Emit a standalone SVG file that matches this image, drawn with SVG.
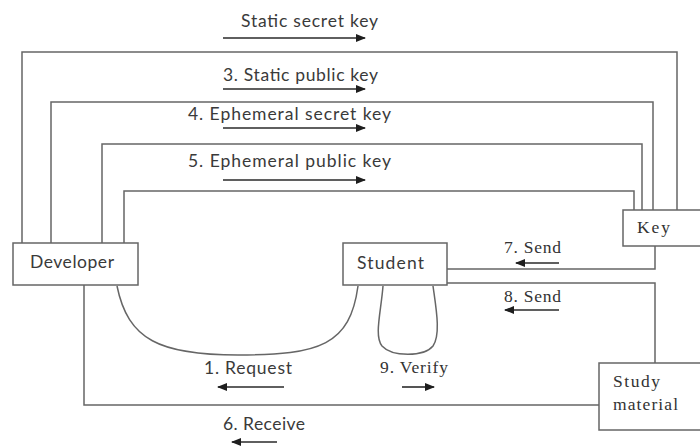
<svg xmlns="http://www.w3.org/2000/svg" width="700" height="446" viewBox="0 0 700 446">
  <defs>
    <marker id="head" viewBox="0 0 10 8" refX="9" refY="4" markerWidth="10" markerHeight="8" markerUnits="userSpaceOnUse" orient="auto">
      <path d="M0,0 L10,4 L0,8 Z" fill="#1e1e1e"/>
    </marker>
    <style>
      .box { fill: #ffffff; stroke: #666666; stroke-width: 1.5; }
      .wire { fill: none; stroke: #666666; stroke-width: 1.5; }
      .flow { fill: none; stroke: #2a2a2a; stroke-width: 1.6; marker-end: url(#head); }
      .sans { font-family: Lato, "Liberation Sans", sans-serif; font-size: 17.5px; fill: #3a3a3a; }
      .serif { font-family: "Liberation Serif", serif; font-size: 17.5px; fill: #333333; }
    </style>
  </defs>

  <rect width="700" height="446" fill="#ffffff"/>

  <!-- connectors -->
  <g id="connectors">
    <!-- key frames from Developer to Key -->
    <polyline class="wire" points="22,243 22,52 677,52 677,210"/>
    <polyline class="wire" points="51,243 51,102 653,102 653,210"/>
    <polyline class="wire" points="102,243 102,144 642,144 642,210"/>
    <polyline class="wire" points="124,243 124,191 634,191 634,210"/>
    <!-- Key to Student -->
    <polyline class="wire" points="447,269 655,269 655,246"/>
    <!-- Study material to Student -->
    <polyline class="wire" points="447,283 655,283 655,363"/>
    <!-- Developer to Study material -->
    <polyline class="wire" points="84,285 84,405 599,405"/>
    <!-- request curve -->
    <path class="wire" d="M117,286 C128,340 160,355 238,355 C320,355 350,345 358,286"/>
    <!-- verify loop -->
    <path class="wire" d="M383,286 C381,312 374,336 382,346 C392,357 424,357 433,346 C441,334 436,308 433,286"/>

    <!-- direction arrows -->
    <line class="flow" x1="223" y1="38" x2="365" y2="38"/>
    <line class="flow" x1="223" y1="89" x2="365" y2="89"/>
    <line class="flow" x1="223" y1="128" x2="365" y2="128"/>
    <line class="flow" x1="223" y1="180" x2="365" y2="180"/>
    <line class="flow" x1="559" y1="263" x2="516" y2="263"/>
    <line class="flow" x1="559" y1="310" x2="505" y2="310"/>
    <line class="flow" x1="284" y1="387" x2="218" y2="387"/>
    <line class="flow" x1="402" y1="387" x2="434" y2="387"/>
    <line class="flow" x1="277" y1="442" x2="232" y2="442"/>

    <!-- flow labels -->
    <text class="sans" x="241" y="27" textLength="137">Static secret key</text>
    <text class="sans" x="223" y="81" textLength="155">3. Static public key</text>
    <text class="sans" x="188" y="120" textLength="203">4. Ephemeral secret key</text>
    <text class="sans" x="188" y="167" textLength="203">5. Ephemeral public key</text>
    <text class="serif" x="504" y="253" textLength="57">7. Send</text>
    <text class="serif" x="504" y="302" textLength="57">8. Send</text>
    <text class="sans" x="204" y="374" textLength="88">1. Request</text>
    <text class="serif" x="380" y="373" textLength="68">9. Verify</text>
    <text class="sans" x="223" y="430" textLength="82">6. Receive</text>
  </g>

  <g id="developer">
    <rect class="box" x="13" y="243" width="125" height="42"/>
    <text class="sans" x="30" y="268" textLength="84">Developer</text>
  </g>

  <g id="student">
    <rect class="box" x="343" y="243" width="104" height="42"/>
    <text class="sans" x="357" y="269" textLength="67">Student</text>
  </g>

  <g id="key">
    <rect class="box" x="623" y="210" width="90" height="36"/>
    <text class="serif" x="637" y="233" textLength="33">Key</text>
  </g>

  <g id="study-material">
    <rect class="box" x="599" y="363" width="114" height="67"/>
    <text class="serif" x="613" y="387" textLength="47">Study</text>
    <text class="serif" x="613" y="410" textLength="65">material</text>
  </g>
</svg>
